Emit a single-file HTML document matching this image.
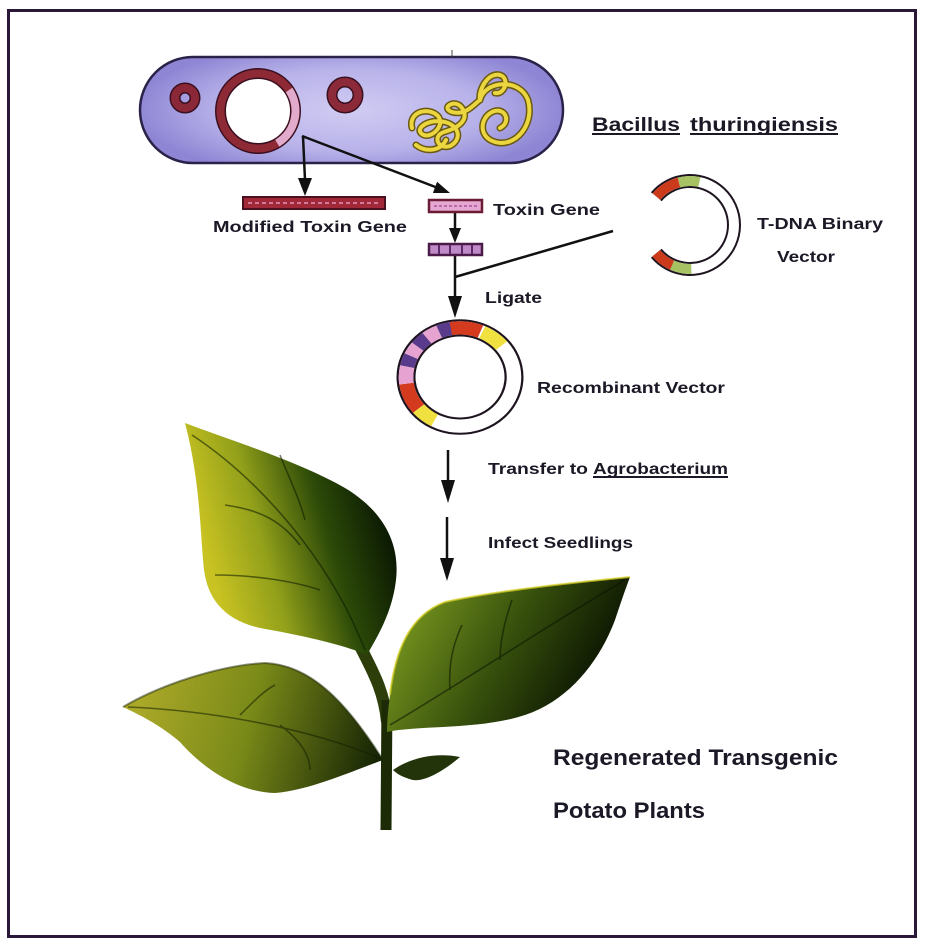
<!DOCTYPE html>
<html><head><meta charset="utf-8"><style>
html,body{margin:0;padding:0;background:#fff;}
svg{display:block;}
text{font-family:"Liberation Sans",Arial,sans-serif;font-weight:bold;fill:#1c1826;}
</style></head><body>
<svg width="937" height="942" viewBox="0 0 937 942" xmlns="http://www.w3.org/2000/svg">
<defs>
<radialGradient id="cap" gradientUnits="userSpaceOnUse" cx="350" cy="110" r="215" gradientTransform="translate(350 110) scale(1 0.32) translate(-350 -110)">
<stop offset="0" stop-color="#d0ccf2"/><stop offset="0.6" stop-color="#b8b2ea"/><stop offset="1" stop-color="#8e86d4"/>
</radialGradient>
<linearGradient id="lf1" gradientUnits="userSpaceOnUse" x1="212" y1="570" x2="392" y2="520">
<stop offset="0" stop-color="#c8c222"/><stop offset="0.3" stop-color="#92a01a"/><stop offset="0.65" stop-color="#2c4a08"/><stop offset="1" stop-color="#081402"/>
</linearGradient>
<linearGradient id="lf2" gradientUnits="userSpaceOnUse" x1="420" y1="610" x2="600" y2="710">
<stop offset="0" stop-color="#6e8c1c"/><stop offset="0.45" stop-color="#364f0c"/><stop offset="1" stop-color="#040a00"/>
</linearGradient>
<linearGradient id="lf3" gradientUnits="userSpaceOnUse" x1="140" y1="700" x2="375" y2="765">
<stop offset="0" stop-color="#aaa828"/><stop offset="0.45" stop-color="#7a8a18"/><stop offset="1" stop-color="#172505"/>
</linearGradient>
</defs>

<!-- frame -->
<rect x="8.5" y="10.5" width="907" height="926" fill="none" stroke="#2a1838" stroke-width="3"/>

<!-- bacterium -->
<rect x="140" y="57" width="423" height="106" rx="53" ry="53" fill="url(#cap)" stroke="#2a2248" stroke-width="2.5"/>
<line x1="452" y1="50" x2="452" y2="57" stroke="#444" stroke-width="1"/>
<!-- small plasmids -->
<circle cx="185" cy="98" r="10" fill="none" stroke="#3a1020" stroke-width="11"/>
<circle cx="185" cy="98" r="10" fill="none" stroke="#8a2838" stroke-width="8"/>
<circle cx="345" cy="95" r="13" fill="none" stroke="#3a1020" stroke-width="11"/>
<circle cx="345" cy="95" r="13" fill="none" stroke="#8c2a3a" stroke-width="8"/>
<!-- big plasmid -->
<circle cx="258" cy="111" r="37.5" fill="#fff" stroke="#3a1020" stroke-width="11"/>
<circle cx="258" cy="111" r="37.5" fill="none" stroke="#8e2a36" stroke-width="8"/>
<circle cx="258" cy="111" r="37.5" fill="none" stroke="#e2aacb" stroke-width="8" stroke-dasharray="60.9 300" transform="rotate(-34 258 111)"/>
<!-- chromosome squiggle -->
<g fill="none" stroke-linecap="round" stroke-linejoin="round">
<g stroke="#6a5a10" stroke-width="7">
<path d="M480 100 C485 80 520 78 528 100 C535 125 515 148 495 142 C478 137 480 118 492 112 C505 106 512 122 500 128"/>
<path d="M480 100 C478 90 488 72 500 75 C510 78 505 95 495 93"/>
<path d="M412 128 C408 112 428 106 438 116 C446 126 430 140 422 134 C414 128 430 118 445 122 C460 126 462 140 450 146 C438 150 432 136 444 132 C458 128 470 120 462 108 C455 98 440 108 452 112 C466 116 474 104 480 100"/>
<path d="M416 145 C425 152 440 152 446 140"/>
</g>
<g stroke="#ecd640" stroke-width="4">
<path d="M480 100 C485 80 520 78 528 100 C535 125 515 148 495 142 C478 137 480 118 492 112 C505 106 512 122 500 128"/>
<path d="M480 100 C478 90 488 72 500 75 C510 78 505 95 495 93"/>
<path d="M412 128 C408 112 428 106 438 116 C446 126 430 140 422 134 C414 128 430 118 445 122 C460 126 462 140 450 146 C438 150 432 136 444 132 C458 128 470 120 462 108 C455 98 440 108 452 112 C466 116 474 104 480 100"/>
<path d="M416 145 C425 152 440 152 446 140"/>
</g>
</g>

<!-- arrows -->
<g stroke="#111" stroke-width="2.5" fill="none">
<line x1="303" y1="136" x2="305" y2="180"/>
<line x1="302" y1="136" x2="438" y2="188"/>
<line x1="455" y1="213" x2="455" y2="230"/>
<line x1="455" y1="255" x2="455" y2="298"/>
<line x1="455" y1="277" x2="613" y2="231"/>
<line x1="448" y1="450" x2="448" y2="482"/>
<line x1="447" y1="517" x2="447" y2="560"/>
</g>
<g fill="#111">
<polygon points="298,178 312,178 305,196"/>
<polygon points="450,193 432.9,193 437.1,181.8"/>
<polygon points="449,228 461,228 455,243"/>
<polygon points="448,296 462,296 455,318"/>
<polygon points="441,480 455,480 448,503"/>
<polygon points="440,558 454,558 447,581"/>
</g>

<!-- modified toxin gene bar -->
<rect x="243" y="197" width="142" height="12" fill="#a02838" stroke="#4a1020" stroke-width="2"/>
<line x1="248" y1="203" x2="380" y2="203" stroke="#d27a98" stroke-width="2" stroke-dasharray="4 3"/>
<!-- toxin gene bar -->
<rect x="429" y="200" width="53" height="12" fill="#e6a8d2" stroke="#6a1c34" stroke-width="2.5"/>
<line x1="434" y1="206" x2="477" y2="206" stroke="#b868a8" stroke-width="2" stroke-dasharray="3 2"/>
<!-- second bar -->
<rect x="429" y="244" width="53" height="11" fill="#c08ac8" stroke="#4a1a48" stroke-width="2.5"/>
<g stroke="#5a2a6a" stroke-width="2">
<line x1="439" y1="245" x2="439" y2="254"/><line x1="450" y1="245" x2="450" y2="254"/><line x1="462" y1="245" x2="462" y2="254"/><line x1="472" y1="245" x2="472" y2="254"/>
</g>

<!-- T-DNA binary vector -->
<path d="M656.3 196.7 A44 44 0 1 1 656.3 253.3" fill="none" stroke="#1e1420" stroke-width="14"/>
<path d="M656.3 196.7 A44 44 0 1 1 656.3 253.3" fill="none" stroke="#fff" stroke-width="10"/>
<g fill="none" stroke-width="10">
<circle cx="690" cy="225" r="44" stroke="#cc3a1c" stroke-dasharray="26.9 400" stroke-dashoffset="-168.9"/>
<circle cx="690" cy="225" r="44" stroke="#a6c262" stroke-dasharray="20.7 400" stroke-dashoffset="-195.8"/>
<circle cx="690" cy="225" r="44" stroke="#a6c262" stroke-dasharray="20 400" stroke-dashoffset="-67.6"/>
<circle cx="690" cy="225" r="44" stroke="#cc3a1c" stroke-dasharray="20 400" stroke-dashoffset="-87.5"/>
</g>

<!-- recombinant vector -->
<g transform="translate(460 377) scale(1 0.91)">
<circle cx="0" cy="0" r="54" fill="#fff" stroke="#1e1420" stroke-width="19"/>
<circle cx="0" cy="0" r="54" fill="none" stroke="#fff" stroke-width="14.5"/>
<g fill="none" stroke-width="14.5">
<circle r="54" stroke="#d43a1e" stroke-dasharray="30.2 500" stroke-dashoffset="-245"/>
<circle r="54" stroke="#f0e040" stroke-dasharray="24.5 500" stroke-dashoffset="-277.1"/>
<circle r="54" stroke="#f0e040" stroke-dasharray="20.7 500" stroke-dashoffset="-111.2"/>
<circle r="54" stroke="#d43a1e" stroke-dasharray="30.2 500" stroke-dashoffset="-131.9"/>
<circle r="54" stroke="#e6a2d0" stroke-dasharray="18.9 500" stroke-dashoffset="-162.1"/>
<circle r="54" stroke="#5a3a8a" stroke-dasharray="12.3 500" stroke-dashoffset="-181"/>
<circle r="54" stroke="#e6a2d0" stroke-dasharray="12.3 500" stroke-dashoffset="-193.2"/>
<circle r="54" stroke="#5a3a8a" stroke-dasharray="13.2 500" stroke-dashoffset="-205.5"/>
<circle r="54" stroke="#e6a2d0" stroke-dasharray="14.1 500" stroke-dashoffset="-218.7"/>
<circle r="54" stroke="#5a3a8a" stroke-dasharray="12.3 500" stroke-dashoffset="-232.8"/>
</g>
</g>

<!-- plant -->
<path d="M360 646 C372 670 384 690 387 722" fill="none" stroke="#2e3e0a" stroke-width="12"/>
<line x1="387" y1="700" x2="386" y2="830" stroke="#1c2a06" stroke-width="11"/>
<path d="M185 423 C230 440 300 462 345 488 C385 512 400 545 396 580 C392 615 375 640 367 655 C345 645 300 635 260 628 C225 620 208 600 204 570 C200 530 200 480 185 423 Z" fill="url(#lf1)"/>
<g fill="none" stroke="#0c1a02" stroke-width="1.6" opacity="0.55">
<path d="M192 435 C260 480 330 560 365 650"/>
<path d="M225 505 C260 510 280 520 300 545"/>
<path d="M215 575 C250 575 290 580 320 590"/>
<path d="M280 455 C290 480 300 500 305 520"/>
</g>
<path d="M630 577 C580 582 500 590 445 602 C410 615 395 650 390 695 C388 710 387 722 387 732 C420 725 480 730 525 715 C570 700 600 660 615 620 C620 605 625 590 630 577 Z" fill="url(#lf2)"/>
<path d="M630 577 C580 582 500 590 445 602 C410 615 395 650 390 695" fill="none" stroke="#d8d020" stroke-width="2" opacity="0.7"/>
<g fill="none" stroke="#0a1402" stroke-width="1.6" opacity="0.55">
<path d="M390 725 C450 690 540 630 625 580"/>
<path d="M450 690 C448 660 455 640 462 625"/>
<path d="M500 660 C500 640 505 620 512 600"/>
</g>
<path d="M123 707 C160 685 220 665 265 663 C310 665 345 700 383 760 C350 772 310 790 275 793 C235 792 200 765 180 742 C160 725 140 715 123 707 Z" fill="url(#lf3)"/>
<path d="M123 707 C160 685 220 665 265 663 C310 665 345 700 383 760" fill="none" stroke="#1a2604" stroke-width="2" opacity="0.5"/>
<g fill="none" stroke="#142002" stroke-width="1.6" opacity="0.55">
<path d="M128 707 C200 710 300 725 380 758"/>
<path d="M240 715 C255 700 265 690 275 685"/>
<path d="M280 725 C300 740 310 755 310 770"/>
</g>
<path d="M393 770 C410 758 435 752 460 757 C445 770 425 782 413 780 C405 778 398 775 393 770 Z" fill="#24340a"/>

<!-- labels -->
<text x="592" y="131" font-size="19" textLength="88" lengthAdjust="spacingAndGlyphs">Bacillus</text>
<text x="690" y="131" font-size="19" textLength="148" lengthAdjust="spacingAndGlyphs">thuringiensis</text>
<rect x="592" y="133" width="88" height="2" fill="#1c1826"/>
<rect x="690" y="133" width="148" height="2" fill="#1c1826"/>
<text x="213" y="232" font-size="16" textLength="194" lengthAdjust="spacingAndGlyphs">Modified Toxin Gene</text>
<text x="493" y="215" font-size="16" textLength="107" lengthAdjust="spacingAndGlyphs">Toxin Gene</text>
<text x="757" y="229" font-size="16" textLength="126" lengthAdjust="spacingAndGlyphs">T-DNA Binary</text>
<text x="777" y="262" font-size="16" textLength="58" lengthAdjust="spacingAndGlyphs">Vector</text>
<text x="485" y="303" font-size="16" textLength="57" lengthAdjust="spacingAndGlyphs">Ligate</text>
<text x="537" y="393" font-size="16" textLength="188" lengthAdjust="spacingAndGlyphs">Recombinant Vector</text>
<text x="488" y="474" font-size="16" textLength="100" lengthAdjust="spacingAndGlyphs">Transfer to</text>
<text x="593" y="474" font-size="16" textLength="135" lengthAdjust="spacingAndGlyphs">Agrobacterium</text>
<rect x="593" y="476" width="135" height="2" fill="#1c1826"/>
<text x="488" y="548" font-size="16" textLength="145" lengthAdjust="spacingAndGlyphs">Infect Seedlings</text>
<text x="553" y="765" font-size="22" textLength="285" lengthAdjust="spacingAndGlyphs">Regenerated Transgenic</text>
<text x="553" y="818" font-size="22" textLength="152" lengthAdjust="spacingAndGlyphs">Potato Plants</text>
</svg>
</body></html>
